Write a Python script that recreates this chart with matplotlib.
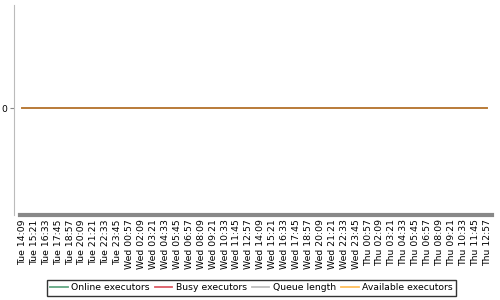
import matplotlib
matplotlib.use('Agg')
import matplotlib.pyplot as plt

times = ["Tue 14:09", "Tue 15:21", "Tue 16:33", "Tue 17:45", "Tue 18:57",
         "Tue 20:09", "Tue 21:21", "Tue 22:33", "Tue 23:45",
         "Wed 00:57", "Wed 02:09", "Wed 03:21", "Wed 04:33", "Wed 05:45",
         "Wed 06:57", "Wed 08:09", "Wed 09:21", "Wed 10:33", "Wed 11:45",
         "Wed 12:57", "Wed 14:09", "Wed 15:21", "Wed 16:33", "Wed 17:45",
         "Wed 18:57", "Wed 20:09", "Wed 21:21", "Wed 22:33", "Wed 23:45",
         "Thu 00:57", "Thu 02:09", "Thu 03:21", "Thu 04:33", "Thu 05:45",
         "Thu 06:57", "Thu 08:09", "Thu 09:21", "Thu 10:33", "Thu 11:45",
         "Thu 12:57"]

online = [0] * len(times)
busy = [0] * len(times)
queue = [0] * len(times)
available = [0] * len(times)

series = [
    ("Online executors", online, "#62a883"),
    ("Busy executors", busy, "#dc5a64"),
    ("Queue length", queue, "#bebebe"),
    ("Available executors", available, "#ffbe5a"),
]

fig = plt.figure(figsize=(5, 3), dpi=100)
ax = fig.add_axes([0.04, 0.283, 0.944, 0.70])

x = list(range(len(times)))
handles = []
for name, vals, col in series:
    ax.plot(x, vals, color=col, lw=1.3)
    h, = ax.plot([], [], color=col, lw=1.3, label=name)
    handles.append(h)
# the stacked lines at zero show up brownish in the original
ax.plot(x, available, color="#b4783a", lw=1.3)

ax.set_xlim(-0.2, len(times) - 0.6)
ax.set_ylim(-1.04, 1)
ax.set_yticks([0])
ax.set_yticklabels(["0"])
ax.set_xticks(x)
ax.set_xticklabels(times, rotation=90)
ax.tick_params(axis='x', length=0, labelsize=6.7, pad=3)
ax.tick_params(axis='y', length=3, labelsize=6.7, color='#888888', pad=2)

for s in ['top', 'right']:
    ax.spines[s].set_visible(False)
ax.spines['left'].set_color('#bbbbbb')
ax.spines['left'].set_position(('outward', 4))
ax.spines['bottom'].set_color('#888888')
ax.spines['bottom'].set_linewidth(3)

fig.legend(handles=handles, loc='center', bbox_to_anchor=(0.503, 0.04),
           ncol=4, fontsize=6.7, frameon=True, fancybox=False,
           edgecolor='black', handlelength=1.9, handletextpad=0.4,
           columnspacing=0.5, borderpad=0.35)

fig.savefig("out.png", dpi=100)
